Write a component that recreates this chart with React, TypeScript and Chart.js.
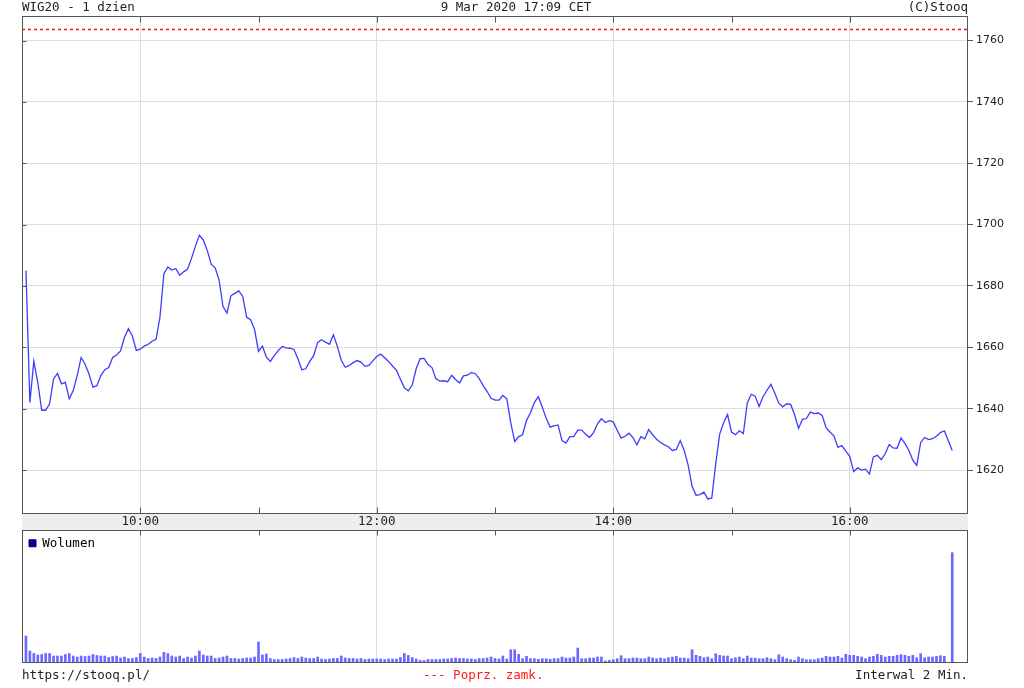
import { useEffect, useRef } from 'react';
import { Chart, registerables } from 'chart.js';

Chart.register(...registerables);

// ---- text ----
const TITLE_LEFT = 'WIG20 - 1 dzien';
const TITLE_CENTER = '9 Mar 2020 17:09 CET';
const TITLE_RIGHT = '(C)Stooq';
const FOOT_LEFT = 'https://stooq.pl/';
const FOOT_CENTER = '--- Poprz. zamk.';
const FOOT_RIGHT = 'Interwal 2 Min.';
const VOLUME_LABEL = 'Wolumen';

// ---- axis labels ----
const MAJOR_HOURS = ['10:00', '12:00', '14:00', '16:00'];
const ALL_HOURS = ['10:00', '11:00', '12:00', '13:00', '14:00', '15:00', '16:00'];
const Y_MIN = 1606;
const Y_MAX = 1768;
const Y_STEP = 20;
const PREV_CLOSE = 1763.6;

// 2-minute slots of the session 09:00 .. 17:00 (category axis)
const pad2 = (n: number) => String(n).padStart(2, '0');
const SLOT_LABELS: string[] = [];
for (let m = 9 * 60; m <= 17 * 60; m += 2) SLOT_LABELS.push(`${pad2(Math.floor(m / 60))}:${pad2(m % 60)}`);

// continuous quotes 09:02 .. 16:48, then the closing print at 16:52
const CLOSE_TIME = '16:52';

// ---- series: WIG20 quotes ----
const PRICES = [
  1685, 1642, 1655.5, 1648.6, 1639.5, 1639.5, 1641.6, 1649.7, 1651.5, 1648.1,
  1648.6, 1643.2, 1645.9, 1650.8, 1656.7, 1654.5, 1651.3, 1647, 1647.5, 1650.8,
  1652.7, 1653.4, 1656.7, 1657.5, 1658.8, 1663.3, 1666.1, 1663.7, 1659, 1659.4,
  1660.4, 1661, 1662, 1662.6, 1669.8, 1684, 1686.2, 1685.2, 1685.7, 1683.5,
  1684.6, 1685.5, 1689, 1693, 1696.5, 1695, 1691.6, 1687.1, 1685.9, 1681.9,
  1673.3, 1671.2, 1676.8, 1677.6, 1678.4, 1676.6, 1669.8, 1669, 1665.8, 1658.7,
  1660.4, 1656.8, 1655.4, 1657.3, 1658.9, 1660.3, 1659.8, 1659.7, 1659.3, 1656.3,
  1652.7, 1653, 1655.4, 1657.3, 1661.6, 1662.5, 1661.7, 1661, 1664.1, 1660.3,
  1655.8, 1653.5, 1654.1, 1655, 1655.7, 1655.2, 1653.8, 1654.1, 1655.6, 1657,
  1657.8, 1656.6, 1655.4, 1653.9, 1652.5, 1649.6, 1646.8, 1645.8, 1647.7, 1653,
  1656.3, 1656.4, 1654.4, 1653.4, 1649.8, 1649, 1649.1, 1648.8, 1650.9, 1649.5,
  1648.4, 1650.7, 1650.9, 1651.8, 1651.4, 1649.8, 1647.5, 1645.6, 1643.4, 1642.8,
  1642.8, 1644.3, 1643.2, 1635.4, 1629.3, 1630.9, 1631.5, 1636.2, 1638.7, 1642.1,
  1643.9, 1640.5, 1636.8, 1634, 1634.4, 1634.7, 1629.6, 1628.8, 1630.9, 1630.9,
  1633, 1633, 1631.7, 1630.6, 1632.2, 1635.1, 1636.7, 1635.5, 1636.1, 1635.7,
  1633, 1630.4, 1631, 1632, 1630.6, 1628.2, 1630.9, 1630.2, 1633.2, 1631.5,
  1630, 1629, 1628.2, 1627.6, 1626.4, 1626.7, 1629.6, 1626.4, 1621.6, 1614.7,
  1611.8, 1612, 1612.8, 1610.6, 1610.9, 1622.1, 1631.7, 1635.4, 1638.1, 1632.4,
  1631.5, 1632.8, 1631.9, 1641.8, 1644.7, 1644.1, 1640.7, 1643.9, 1646, 1647.9,
  1645, 1641.8, 1640.6, 1641.6, 1641.4, 1638.1, 1633.6, 1636.5, 1636.8, 1638.9,
  1638.4, 1638.6, 1637.8, 1633.8, 1632.4, 1631.1, 1627.4, 1628, 1626.2, 1624.5,
  1619.5, 1620.7, 1620, 1620.3, 1618.7, 1624.3, 1624.8, 1623.4, 1625.3, 1628.3,
  1627.2, 1627.1, 1630.4, 1628.7, 1626.4, 1623.2, 1621.5, 1629, 1630.6, 1629.9,
  1630.2, 1631, 1632.2, 1632.8, 1626.4,
];

// ---- series: volume (relative units), same times ----
const VOLUMES = [
  260, 110, 85, 70, 75, 85, 85, 60, 60, 60,
  75, 85, 60, 50, 60, 55, 60, 75, 65, 60,
  60, 45, 55, 60, 40, 50, 35, 35, 45, 85,
  50, 35, 40, 35, 50, 97, 85, 60, 50, 60,
  35, 50, 40, 60, 110, 70, 60, 60, 35, 40,
  50, 60, 35, 35, 30, 35, 40, 40, 50, 200,
  70, 80, 35, 25, 25, 25, 30, 35, 45, 35,
  50, 40, 35, 35, 50, 30, 25, 30, 35, 35,
  60, 40, 35, 35, 30, 35, 25, 30, 30, 30,
  30, 25, 30, 30, 30, 45, 85, 65, 45, 30,
  15, 15, 25, 25, 25, 25, 30, 30, 35, 40,
  35, 35, 30, 30, 25, 35, 35, 40, 50, 35,
  30, 60, 30, 123, 123, 77, 33, 57, 33, 33,
  27, 33, 33, 27, 33, 33, 50, 40, 40, 50,
  140, 33, 33, 40, 40, 50, 50, 10, 17, 23,
  33, 63, 33, 33, 40, 40, 33, 33, 50, 40,
  33, 40, 33, 43, 50, 57, 40, 40, 33, 123,
  67, 57, 43, 50, 33, 83, 67, 60, 60, 33,
  43, 50, 33, 60, 40, 40, 33, 33, 43, 33,
  23, 73, 50, 33, 23, 17, 50, 33, 23, 23,
  23, 33, 40, 57, 50, 50, 57, 40, 77, 67,
  67, 57, 50, 33, 50, 57, 77, 67, 50, 57,
  57, 67, 73, 67, 57, 67, 43, 83, 43, 50,
  50, 57, 63, 57, 1093,
];
const VOLUME_MAX = 1320;

const DATA_TIMES = [...SLOT_LABELS.slice(1, PRICES.length), CLOSE_TIME];

// ---- styling ----
const MONO = '"DejaVu Sans Mono", monospace';
const SANS = '"DejaVu Sans", sans-serif';
const TEXT = '#222222';
const FRAME = '#555555';
const GRID = '#dcdcdc';
const LINE_BLUE = '#3c3cff';
const BAR_BLUE = '#6a6aff';
const RED = '#ff1a1a';

const crisp = (v: number) => Math.round(v) + 0.5;

const priceFrame = {
  id: 'priceFrame',
  beforeDraw(chart: any) {
    const { ctx, chartArea: a, scales } = chart;
    const x = scales.x;
    ctx.save();
    ctx.fillStyle = '#eeeeee';
    ctx.fillRect(a.left, a.bottom, a.right - a.left, x.bottom - a.bottom);
    ctx.restore();
  },
  afterDraw(chart: any) {
    const { ctx, chartArea: a, scales } = chart;
    const x = scales.x;
    const y = scales.y;
    ctx.save();
    ctx.strokeStyle = FRAME;
    ctx.lineWidth = 1;
    const l = crisp(a.left), r = crisp(a.right - 1), t = crisp(a.top), b = crisp(a.bottom);
    ctx.strokeRect(l, t, r - l, b - t);
    ctx.beginPath();
    ALL_HOURS.forEach((h) => {
      const px = crisp(x.getPixelForValue(SLOT_LABELS.indexOf(h)));
      ctx.moveTo(px, t); ctx.lineTo(px, t + 6);
      ctx.moveTo(px, b); ctx.lineTo(px, b - 6);
    });
    y.ticks.forEach((tk: any) => {
      const py = crisp(y.getPixelForValue(tk.value));
      ctx.moveTo(l, py); ctx.lineTo(l + 4, py);
    });
    ctx.stroke();
    ctx.restore();
  },
};

const volumeFrame = {
  id: 'volumeFrame',
  afterDraw(chart: any) {
    const { ctx, chartArea: a, scales } = chart;
    const x = scales.x;
    ctx.save();
    ctx.strokeStyle = FRAME;
    ctx.lineWidth = 1;
    const l = crisp(a.left), r = crisp(a.right - 1), t = crisp(a.top), b = crisp(a.bottom);
    ctx.strokeRect(l, t, r - l, b - t);
    ctx.beginPath();
    ALL_HOURS.forEach((h) => {
      const px = crisp(x.getPixelForValue(SLOT_LABELS.indexOf(h)));
      ctx.moveTo(px, t); ctx.lineTo(px, t + 5);
    });
    ctx.stroke();
    ctx.restore();
  },
};

const hourGridColor = (c: any) =>
  MAJOR_HOURS.includes(SLOT_LABELS[c.index]) ? GRID : 'rgba(0,0,0,0)';

export default function App() {
  const priceRef = useRef<HTMLCanvasElement>(null);
  const volRef = useRef<HTMLCanvasElement>(null);

  useEffect(() => {
    const price = new Chart(priceRef.current!, {
      type: 'line',
      data: {
        labels: SLOT_LABELS,
        datasets: [
          {
            label: 'Poprz. zamk.',
            data: [
              { x: SLOT_LABELS[0], y: PREV_CLOSE },
              { x: SLOT_LABELS[SLOT_LABELS.length - 1], y: PREV_CLOSE },
            ],
            borderColor: RED,
            borderWidth: 1.6,
            borderDash: [3, 3],
            borderCapStyle: 'butt',
            pointRadius: 0,
            fill: false,
          },
          {
            label: 'WIG20',
            data: DATA_TIMES.map((t, i) => ({ x: t, y: PRICES[i] })),
            borderColor: LINE_BLUE,
            borderWidth: 1.3,
            pointRadius: 0,
            tension: 0,
            fill: false,
          },
        ],
      },
      options: {
        animation: false,
        responsive: false,
        devicePixelRatio: 1,
        layout: { padding: { left: 22, top: 16, right: 0, bottom: 0 } },
        plugins: { legend: { display: false }, tooltip: { enabled: false } },
        scales: {
          x: {
            type: 'category',
            offset: false,
            afterFit: (s: any) => { s.height = 17; },
            grid: { color: hourGridColor, drawTicks: false, lineWidth: 1, offset: false },
            border: { display: false },
            ticks: {
              autoSkip: false,
              maxRotation: 0,
              minRotation: 0,
              padding: 1,
              color: TEXT,
              font: { family: MONO, size: 12.5 },
              callback: (_v: any, i: number) => (MAJOR_HOURS.includes(SLOT_LABELS[i]) ? SLOT_LABELS[i] : ''),
            },
          },
          y: {
            type: 'linear',
            position: 'right',
            min: Y_MIN,
            max: Y_MAX,
            afterFit: (s: any) => { s.width = 56; },
            grid: { color: GRID, tickLength: 5, tickColor: FRAME },
            border: { display: false },
            ticks: {
              stepSize: Y_STEP,
              includeBounds: false,
              padding: 3,
              color: TEXT,
              font: { family: SANS, size: 11 },
              callback: (v: any) => String(v),
            },
          },
        },
      },
      plugins: [priceFrame],
    } as any);

    const volume = new Chart(volRef.current!, {
      type: 'bar',
      data: {
        labels: SLOT_LABELS,
        datasets: [
          {
            label: VOLUME_LABEL,
            data: DATA_TIMES.map((t, i) => ({ x: t, y: VOLUMES[i] })),
            backgroundColor: BAR_BLUE,
            barThickness: 2,
            borderWidth: 0,
          },
        ],
      },
      options: {
        animation: false,
        responsive: false,
        devicePixelRatio: 1,
        layout: { padding: { left: 22, top: 0, right: 56, bottom: 26 } },
        plugins: {
          tooltip: { enabled: false },
          legend: {
            position: 'chartArea',
            align: 'start',
            labels: {
              boxWidth: 7,
              boxHeight: 7,
              padding: 7,
              color: TEXT,
              font: { family: MONO, size: 12.5 },
              generateLabels: () => [
                {
                  text: VOLUME_LABEL,
                  fillStyle: '#0000b0',
                  strokeStyle: '#000050',
                  lineWidth: 1,
                  hidden: false,
                  datasetIndex: 0,
                },
              ],
            },
          },
        },
        scales: {
          x: {
            type: 'category',
            offset: false,
            afterFit: (s: any) => { s.height = 0; },
            grid: { color: hourGridColor, drawTicks: false, offset: false },
            border: { display: false },
            ticks: { display: false, autoSkip: false },
          },
          y: {
            type: 'linear',
            display: false,
            min: 0,
            max: VOLUME_MAX,
          },
        },
      },
      plugins: [volumeFrame],
    } as any);

    return () => {
      price.destroy();
      volume.destroy();
    };
  }, []);

  const txt = {
    position: 'absolute' as const,
    fontFamily: MONO,
    fontSize: 12.5,
    lineHeight: '14px',
    color: TEXT,
    whiteSpace: 'pre' as const,
  };

  return (
    <div style={{ position: 'absolute', left: 0, top: 0, width: 1024, height: 688, background: '#ffffff', overflow: 'hidden' }}>
      <canvas ref={priceRef} width={1024} height={530} style={{ position: 'absolute', left: 0, top: 0 }} />
      <canvas ref={volRef} width={1024} height={158} style={{ position: 'absolute', left: 0, top: 530 }} />
      <div style={{ ...txt, left: 22, top: 0 }}>{TITLE_LEFT}</div>
      <div style={{ ...txt, left: 16, width: 1000, top: 0, textAlign: 'center' }}>{TITLE_CENTER}</div>
      <div style={{ ...txt, right: 56, top: 0, textAlign: 'right' }}>{TITLE_RIGHT}</div>
      <div style={{ ...txt, left: 22, top: 668 }}>{FOOT_LEFT}</div>
      <div style={{ ...txt, left: 423, top: 668, color: RED }}>{FOOT_CENTER}</div>
      <div style={{ ...txt, right: 56, top: 668, textAlign: 'right' }}>{FOOT_RIGHT}</div>
    </div>
  );
}
